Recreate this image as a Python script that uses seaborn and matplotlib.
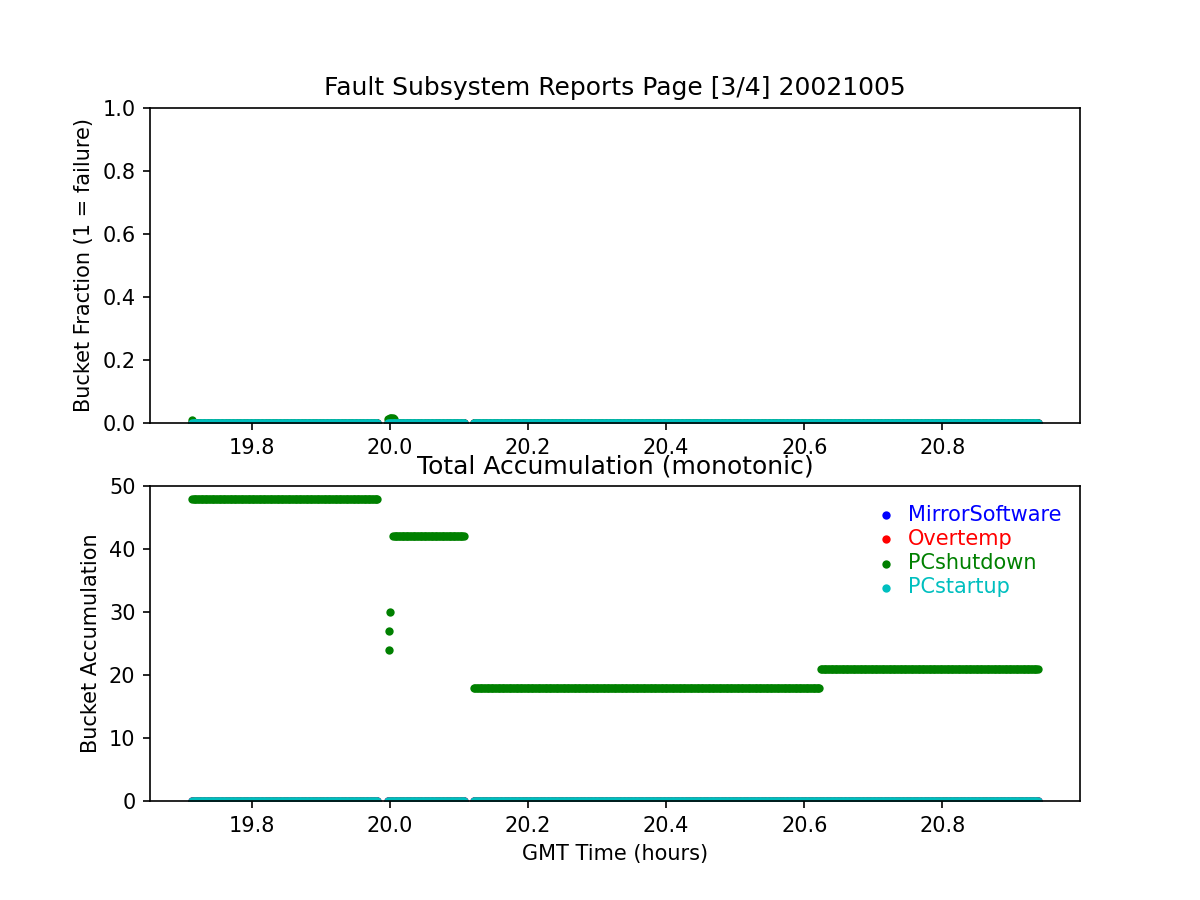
import numpy as np
import pandas as pd
import matplotlib
matplotlib.use('Agg')
import matplotlib.pyplot as plt
import seaborn as sns


# Values
# ----------------------------------------------------------------------#
series_names = ['MirrorSoftware', 'Overtemp', 'PCshutdown', 'PCstartup']
series_colors = ['b', 'r', 'g', 'c']

# time windows (hours) that have samples, and the sampling interval
coverage_start = [19.714, 19.998, 20.122]
coverage_end = [19.982, 20.108, 20.938]
sample_step = 0.002

# PCshutdown accumulation plateaus
level_start = [19.714, 20.005, 20.122, 20.624]
level_end = [19.982, 20.108, 20.622, 20.938]
level_value = [48, 42, 18, 21]

# PCshutdown accumulation while it was climbing near 20.0
jump_times = [19.9985, 19.9995, 20.0005]
jump_values = [24, 27, 30]

# PCshutdown fraction blips on the top panel
blip_times = [19.714, 19.998, 20.000, 20.002, 20.004, 20.006]
blip_values = [0.010, 0.012, 0.016, 0.017, 0.016, 0.012]


def sample_times(starts, ends):
    return np.concatenate([np.arange(s, e + 1e-9, sample_step)
                           for s, e in zip(starts, ends)])


grid = sample_times(coverage_start, coverage_end)

# Build long tables for the two panels
frac_rows = []
accum_rows = []
for name in series_names:
    frac_rows.append(pd.DataFrame({'time': grid, 'value': 0.0, 'kind': name}))
    if name == 'PCshutdown':
        frac_rows.append(pd.DataFrame({'time': blip_times, 'value': blip_values,
                                       'kind': name}))
        for s, e, v in zip(level_start, level_end, level_value):
            t = sample_times([s], [e])
            accum_rows.append(pd.DataFrame({'time': t, 'value': float(v),
                                            'kind': name}))
        accum_rows.append(pd.DataFrame({'time': jump_times, 'value': jump_values,
                                        'kind': name}))
    else:
        accum_rows.append(pd.DataFrame({'time': grid, 'value': 0.0, 'kind': name}))

frac = pd.concat(frac_rows, ignore_index=True)
accum = pd.concat(accum_rows, ignore_index=True)


# PLOTTING
# ----------------------------------------------------------------------#
fig, (ax1, ax2) = plt.subplots(2, 1, figsize=(8, 6), dpi=150)

for name, col in zip(series_names, series_colors):
    sns.scatterplot(data=frac[frac.kind == name], x='time', y='value',
                    color=col, s=16, linewidth=0, ax=ax1)
    sns.scatterplot(data=accum[accum.kind == name], x='time', y='value',
                    color=col, s=16, linewidth=0, ax=ax2, label=name)

ax1.set_ylim(0, 1)
ax1.set_xlabel('')
ax1.set_ylabel('Bucket Fraction (1 = failure)')
ax1.set_title('Fault Subsystem Reports Page [3/4] 20021005', fontsize=12)

ax2.set_ylim(0, 50)
ax2.set_xlabel('GMT Time (hours)')
ax2.set_ylabel('Bucket Accumulation')
ax2.set_title('Total Accumulation (monotonic)', fontsize=12)

leg = ax2.legend(loc='upper right', frameon=False, labelspacing=0.2,
                 handlelength=1.1, handletextpad=0.5)
for txt, col in zip(leg.get_texts(), series_colors):
    txt.set_color(col)

fig.savefig('out.png', dpi=150)
